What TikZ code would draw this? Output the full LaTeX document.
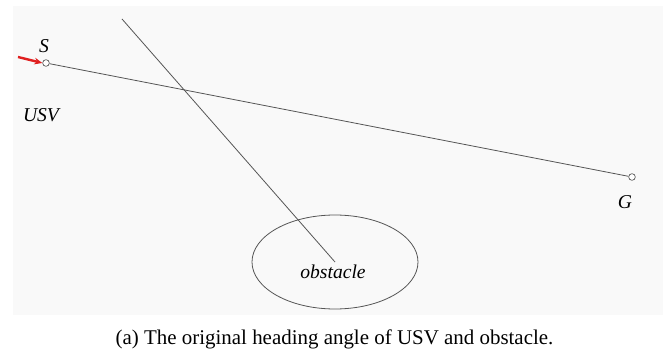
\documentclass[tikz,border=0pt]{standalone}
\usepackage{fontspec}
\setmainfont{Liberation Serif}
\usepackage{tikz}
\usetikzlibrary{shapes.geometric, arrows.meta, positioning, calc}
\definecolor{panel}{HTML}{F9F9F9}
\definecolor{trace}{HTML}{555555}
\definecolor{usvred}{HTML}{E02020}

\begin{document}
\begin{tikzpicture}[
    x=0.75pt, y=-0.75pt,
    waypoint/.style={circle, draw=trace, fill=white, inner sep=0pt,
                     minimum size=5pt, line width=0.5pt},
    obstacle/.style={ellipse, draw=trace, minimum width=124.5pt,
                     minimum height=70.5pt, line width=0.6pt},
    label/.style={font=\fontsize{14.7}{17}\selectfont\itshape, inner sep=0pt},
    path/.style={trace, line width=0.6pt},
    heading/.style={-{Stealth[length=6pt, width=5pt]}, usvred, line width=1.8pt}
]
    \useasboundingbox (0,0) rectangle (669,353);
    \fill[panel] (13,6) rectangle (663,315);

    \node[obstacle] (obs) at (335,262) {};
    \node[label] (obslabel) at (333,272) {obstacle};

    \node[waypoint] (S) at (46,63) {};
    \node[waypoint] (G) at (632,177) {};
    \node[label] (Slabel) at (44,46) {S};
    \node[label] (usv) at (41,115) {USV};
    \node[label] (Glabel) at (625,202) {G};

    \coordinate (top) at (122,19);
    \coordinate (tail) at (18,57);

    \draw[path] (S) -- (G);
    \draw[path] (top) -- (obs.center);
    \draw[heading] (tail) -- (S.west);

    \node[font=\fontsize{15.7}{18}\selectfont, inner sep=0pt] (caption) at (334.5,339)
        {(a) The original heading angle of USV and obstacle.};
\end{tikzpicture}
\end{document}
